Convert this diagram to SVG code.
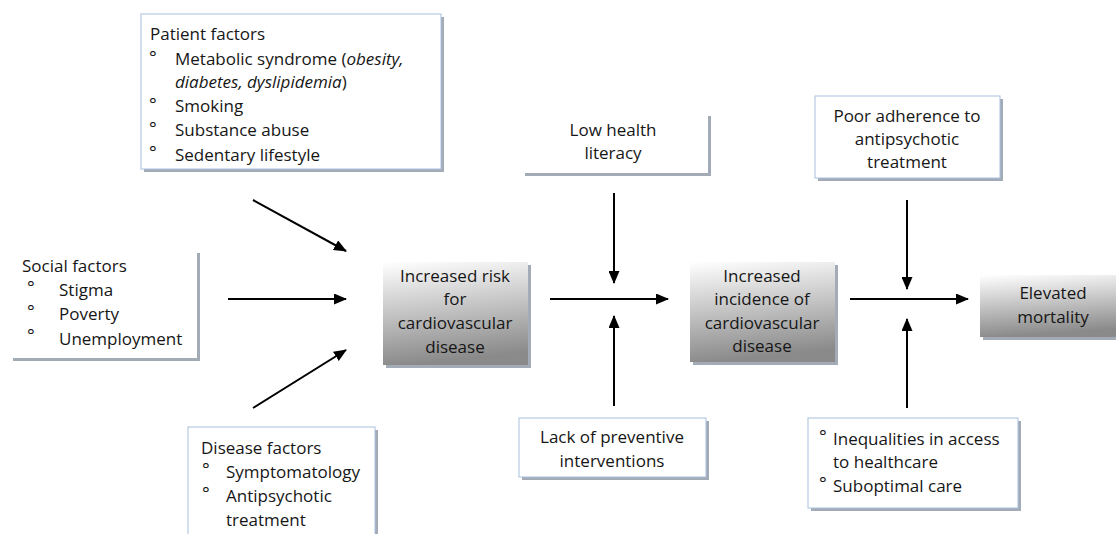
<svg xmlns="http://www.w3.org/2000/svg" width="1116" height="534" viewBox="0 0 1116 534">
<style>
text{font-family:"Open Sans","Liberation Sans",sans-serif;font-size:17px;fill:#161616}
.c{text-anchor:middle}
.b{font-size:18px}
.sh{fill:#a3abb7}
.bx{fill:#fff;stroke:#a9c0de;stroke-width:1}
.bn{fill:#fff}
.gb{fill:url(#g)}
.ar{stroke:#000;stroke-width:2;fill:none;marker-end:url(#ah)}
</style>
<defs>
<linearGradient id="g" x1="0" y1="0" x2="0.15" y2="1">
<stop offset="0" stop-color="#ffffff"/>
<stop offset="1" stop-color="#8a8a8a"/>
</linearGradient>
<marker id="ah" markerWidth="13" markerHeight="11" refX="12" refY="5.5" orient="auto" markerUnits="userSpaceOnUse">
<path d="M0,0 L13,5.5 L0,11 Z" fill="#000"/>
</marker>
<clipPath id="cp"><rect x="141" y="14" width="300" height="155"/></clipPath>
</defs>
<rect width="1116" height="534" fill="#fff"/>

<g id="patient">
<rect class="sh" x="144" y="17" width="300" height="155"/>
<rect class="bx" x="141" y="14" width="300" height="155"/>
<g clip-path="url(#cp)">
<text x="150" y="40">Patient factors</text>
<text class="b" x="149" y="64">°</text><text x="175" y="65">Metabolic syndrome (<tspan font-style="italic">obesity,</tspan></text>
<text x="175" y="88" font-style="italic">diabetes, dyslipidemia<tspan font-style="normal">)</tspan></text>
<text class="b" x="149" y="111">°</text><text x="175" y="112">Smoking</text>
<text class="b" x="149" y="135">°</text><text x="175" y="136">Substance abuse</text>
<text class="b" x="149" y="159">°</text><text x="175" y="161">Sedentary lifestyle</text>
</g>
</g>

<g id="social">
<rect class="sh" x="13" y="253" width="187" height="108"/>
<rect class="bn" x="10" y="250" width="187" height="108"/>
<text x="22" y="272">Social factors</text>
<text class="b" x="27" y="294">°</text><text x="59" y="296">Stigma</text>
<text class="b" x="27" y="318">°</text><text x="59" y="320">Poverty</text>
<text class="b" x="27" y="342">°</text><text x="59" y="345">Unemployment</text>
</g>

<g id="disease">
<rect class="sh" x="191" y="430" width="187" height="108"/>
<rect class="bx" x="188" y="427" width="187" height="110"/>
<text x="201" y="454">Disease factors</text>
<text class="b" x="202" y="476">°</text><text x="226" y="478">Symptomatology</text>
<text class="b" x="202" y="500">°</text><text x="226" y="502">Antipsychotic</text>
<text x="226" y="526">treatment</text>
</g>

<g id="risk">
<rect class="sh" x="386" y="265" width="145" height="103"/>
<rect class="gb" x="383" y="262" width="145" height="103"/>
<text class="c" x="455" y="282">Increased risk</text>
<text class="c" x="455" y="305">for</text>
<text class="c" x="455" y="329">cardiovascular</text>
<text class="c" x="455" y="353">disease</text>
</g>

<g id="incidence">
<rect class="sh" x="693" y="265" width="145" height="100"/>
<rect class="gb" x="690" y="262" width="145" height="100"/>
<text class="c" x="762" y="282">Increased</text>
<text class="c" x="762" y="305">incidence of</text>
<text class="c" x="762" y="329">cardiovascular</text>
<text class="c" x="762" y="352">disease</text>
</g>

<g id="mortality">
<rect class="sh" x="983" y="278" width="136" height="62"/>
<rect class="gb" x="980" y="275" width="136" height="62"/>
<text class="c" x="1053" y="299">Elevated</text>
<text class="c" x="1053" y="323">mortality</text>
</g>

<g id="literacy">
<rect class="sh" x="525" y="116" width="186" height="60"/>
<rect class="bn" x="522" y="113" width="186" height="60"/>
<text class="c" x="613" y="136">Low health</text>
<text class="c" x="613" y="159">literacy</text>
</g>

<g id="preventive">
<rect class="sh" x="522" y="421" width="187" height="59"/>
<rect class="bx" x="519" y="418" width="187" height="59"/>
<text class="c" x="612" y="443">Lack of preventive</text>
<text class="c" x="612" y="467">interventions</text>
</g>

<g id="adherence">
<rect class="sh" x="818" y="99" width="185" height="82"/>
<rect class="bx" x="815" y="96" width="185" height="82"/>
<text class="c" x="907" y="122">Poor adherence to</text>
<text class="c" x="907" y="145">antipsychotic</text>
<text class="c" x="907" y="168">treatment</text>
</g>

<g id="access">
<rect class="sh" x="811" y="421" width="210" height="90"/>
<rect class="bx" x="808" y="418" width="210" height="90"/>
<text class="b" x="819" y="443">°</text><text x="833" y="445">Inequalities in access</text>
<text x="833" y="468">to healthcare</text>
<text class="b" x="819" y="490">°</text><text x="833" y="492">Suboptimal care</text>
</g>

<g id="connectors">
<line class="ar" x1="253" y1="200" x2="346" y2="251"/>
<line class="ar" x1="228" y1="299" x2="346" y2="299"/>
<line class="ar" x1="253" y1="408" x2="346" y2="350"/>
<line class="ar" x1="550" y1="299" x2="668" y2="299"/>
<line class="ar" x1="614" y1="193" x2="614" y2="283"/>
<line class="ar" x1="614" y1="406" x2="614" y2="316"/>
<line class="ar" x1="850" y1="299" x2="968" y2="299"/>
<line class="ar" x1="907" y1="200" x2="907" y2="289"/>
<line class="ar" x1="907" y1="408" x2="907" y2="319"/>
</g>
</svg>
